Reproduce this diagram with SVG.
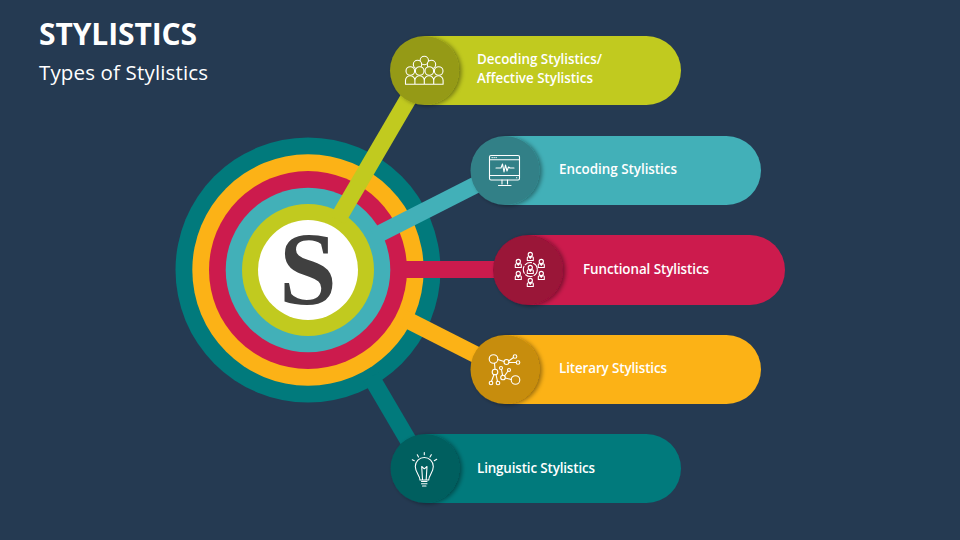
<svg xmlns="http://www.w3.org/2000/svg" width="960" height="540" viewBox="0 0 960 540">
<style>
.t{font-family:"Open Sans","Liberation Sans",sans-serif;fill:#fff}
.l{font-size:13.4px;font-weight:600}
.i{fill:none;stroke:#fff;stroke-width:1.1;stroke-linecap:round;stroke-linejoin:round}
.c{stroke-width:17;fill:none}
</style>
<defs>
<filter id="s" x="-30%" y="-30%" width="170%" height="170%"><feDropShadow dx="2.5" dy="1" stdDeviation="2.2" flood-color="#000" flood-opacity=".4"/></filter>
<g id="p"><circle cx="0" cy="-2" r="2.1"/><path d="M-3 4V1.300Q-3 .3-2 .3H2Q3 .3 3 1.300V4ZM-1.200 .3L0 1.800L1.200 .3"/></g>
</defs>
<rect width="960" height="540" fill="#253A52"/>
<text class="t" x="39" y="44.500" font-size="30" font-weight="700" textLength="158">STYLISTICS</text>
<text class="t" x="39" y="79.500" font-size="20.500" font-weight="500" textLength="169">Types of Stylistics</text>
<g id="hub">
<circle cx="308" cy="270" r="132.500" fill="#017A7C"/>
<circle cx="308" cy="270" r="115.700" fill="#FCB216"/>
<circle cx="308" cy="270" r="99" fill="#CC1B4D"/>
<circle cx="308" cy="270" r="82.300" fill="#42B0B8"/>
<circle cx="308" cy="270" r="66" fill="#C1CA1F"/>
<circle cx="308" cy="270" r="50" fill="#fff"/>
<text x="308" y="304" text-anchor="middle" font-size="104" font-weight="700" fill="#404040" font-family="'Liberation Serif',serif">S</text>
</g>
<g id="connectors">
<line class="c" x1="337.500" y1="219.800" x2="425" y2="70" stroke="#C1CA1F"/>
<line class="c" x1="374" y1="236.500" x2="505" y2="170" stroke="#42B0B8"/>
<line class="c" x1="399" y1="269.500" x2="528" y2="269.500" stroke="#CC1B4D"/>
<line class="c" x1="403.500" y1="318" x2="505" y2="369.500" stroke="#FCB216"/>
<line class="c" x1="371" y1="377" x2="425" y2="469" stroke="#017A7C"/>
</g>
<g id="n1">
<path d="M424.500 36H646.500a34.500 34.500 0 0 1 0 69H424.500Z" fill="#C1CA1F"/>
<circle cx="424.500" cy="70.500" r="34.500" fill="#959A17" filter="url(#s)"/>
<g class="i" fill="#959A17" style="fill:#959A17"><circle cx="424.300" cy="60.500" r="4.200"/><circle cx="417.500" cy="64.500" r="4.200"/><circle cx="431.500" cy="64.500" r="4.200"/><circle cx="410.300" cy="71" r="4.300"/><circle cx="438.700" cy="71" r="4.300"/><circle cx="419.700" cy="71" r="4.300"/><circle cx="429.300" cy="71" r="4.300"/><path d="M405.500 84.300V80.500a4.700 4.700 0 0 1 9.400 0a4.700 4.700 0 0 1 9.400 0a4.700 4.700 0 0 1 9.400 0a4.700 4.700 0 0 1 9.400 0V84.300ZM414.900 80.500V84.300M424.300 80.500V84.300M433.700 80.500V84.300"/></g>
<text class="t l" x="477" y="63.500" textLength="125">Decoding Stylistics/</text>
<text class="t l" x="477" y="83" textLength="116">Affective Stylistics</text>
</g>
<g id="n2">
<path d="M505 136H726.500a34.500 34.500 0 0 1 0 69H505Z" fill="#42B0B8"/>
<circle cx="505" cy="170.500" r="34.500" fill="#338087" filter="url(#s)"/>
<g class="i"><rect x="489.500" y="155.500" width="30" height="24.500" rx="1.500"/><path d="M489.500 159.800H519.500M489.500 175.500H519.500M502 180V184M507.500 180V184M498.500 185.500H511M496 168H501L502.500 164L504 172L505.500 165L507 171L508.500 167L510 168H514M492 157.600H492.300M494 157.600H494.300M496 157.600H496.300M516.500 177.800H516.800"/></g>
<text class="t l" x="559" y="173.500" textLength="118">Encoding Stylistics</text>
</g>
<g id="n3">
<path d="M528 235H750a35 35 0 0 1 0 70H528Z" fill="#CC1B4D"/>
<circle cx="528" cy="270" r="35" fill="#9A1239" filter="url(#s)"/>
<g class="i"><use href="#p" x="530.300" y="256.500"/><use href="#p" x="518.300" y="263.500"/><use href="#p" x="541.300" y="263.500"/><use href="#p" x="518.300" y="275.500"/><use href="#p" x="541.300" y="275.500"/><use href="#p" x="530.300" y="282.500"/><use href="#p" x="530.300" y="269.500"/><circle cx="530.300" cy="269.500" r="7" stroke-dasharray="7 2"/></g>
<text class="t l" x="583" y="274" textLength="126">Functional Stylistics</text>
</g>
<g id="n4">
<path d="M505 335H726.500a34.500 34.500 0 0 1 0 69H505Z" fill="#FCB216"/>
<circle cx="505" cy="369.500" r="34.500" fill="#C78D09" filter="url(#s)"/>
<g class="i"><circle cx="493.500" cy="359" r="4.300"/><circle cx="506.500" cy="362" r="2.500"/><circle cx="515" cy="356.500" r="1.800"/><circle cx="518" cy="362.500" r="1.800"/><circle cx="495" cy="372" r="2.800"/><circle cx="491" cy="383" r="1.800"/><circle cx="498" cy="383" r="1.800"/><circle cx="503" cy="377.500" r="2.300"/><circle cx="501" cy="368" r="1.500"/><circle cx="509" cy="370" r="1.500"/><circle cx="515.500" cy="380" r="4.300"/><path d="M497.800 359.500L504 361.500M508.700 361L513.500 357.500M509 362.500L516 362.500M494.500 363.300L495 369.200M494 374.500L491.500 381.300M496 374.500L497.500 381.300M501.500 369.500L502.500 375.200M504.500 376L508 371M505.300 378L511.200 379.500"/></g>
<text class="t l" x="559" y="373" textLength="108">Literary Stylistics</text>
</g>
<g id="n5">
<path d="M425 434H646.500a34.500 34.500 0 0 1 0 69H425Z" fill="#017A7C"/>
<circle cx="425" cy="468.500" r="34.500" fill="#015E5F" filter="url(#s)"/>
<g class="i"><path d="M420 480C420 475.500 415.300 472.500 415.300 466.500a9 9 0 0 1 18 0C433.300 472.500 428.700 475.500 428.700 480ZM421.500 481.500H427M421.500 483.800H427M422.500 486H426M422.500 479.500L421.700 466.500L424.300 468.800L427 466.500L426.200 479.500M424.300 452.500V454.700M417.300 454.700L418.500 457M431.300 454.700L430 457M412.300 459.700L414.300 460.700M436.700 459.300L434.300 460.700"/></g>
<text class="t l" x="477" y="473" textLength="118">Linguistic Stylistics</text>
</g>
</svg>
